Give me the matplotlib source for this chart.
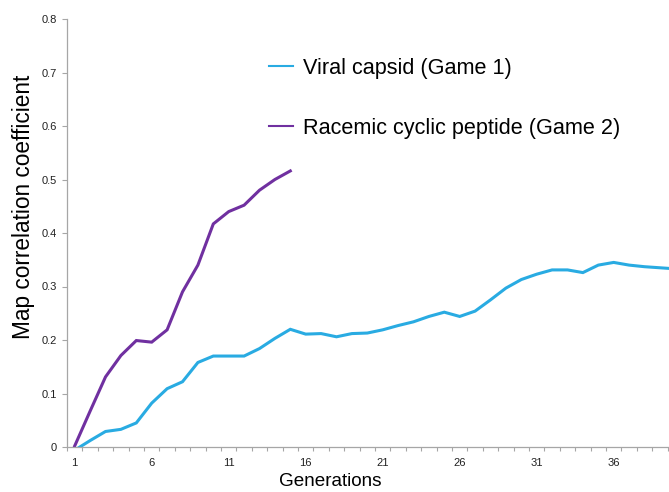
import matplotlib
matplotlib.use("Agg")
import matplotlib.pyplot as plt
from matplotlib.lines import Line2D

plt.rcParams['font.family'] = ['Liberation Sans', 'DejaVu Sans']

generations_blue = list(range(1, 41))
viral_capsid = [-0.006, 0.012, 0.029, 0.033, 0.045, 0.082, 0.109, 0.122, 0.158, 0.170,
                0.170, 0.170, 0.184, 0.203, 0.220, 0.211, 0.212, 0.206, 0.212, 0.213,
                0.219, 0.227, 0.234, 0.244, 0.252, 0.244, 0.254, 0.275, 0.297, 0.313,
                0.323, 0.331, 0.331, 0.326, 0.340, 0.345, 0.340, 0.337, 0.335, 0.333]
generations_purple = list(range(1, 16))
racemic_peptide = [0.002, 0.067, 0.131, 0.171, 0.199, 0.196, 0.219, 0.290, 0.340, 0.417,
                   0.440, 0.452, 0.480, 0.500, 0.516]
xtick_labels = [1, 6, 11, 16, 21, 26, 31, 36]
ytick_values = [0, 0.1, 0.2, 0.3, 0.4, 0.5, 0.6, 0.7, 0.8]

blue = '#29ABE2'
purple = '#7030A0'
axis_gray = '#A6A6A6'

W, H = 669, 492
fig = plt.figure(figsize=(W / 100, H / 100), dpi=100)
ax_left, ax_bottom = 67, 45
ax_w = 40 * 15.4
ax_h = 447 - 19
ax = fig.add_axes([ax_left / W, ax_bottom / H, ax_w / W, ax_h / H])

ax.plot(generations_blue, viral_capsid, color=blue, lw=2.2, solid_joinstyle='miter')
ax.plot(generations_purple, racemic_peptide, color=purple, lw=2.2, solid_joinstyle='miter')

ax.set_xlim(0.5, 40.5)
ax.set_ylim(0, 0.8)

ax.set_xticks(xtick_labels)
ax.set_xticklabels([str(v) for v in xtick_labels])
ax.set_xticks([i + 0.5 for i in range(0, 41)], minor=True)
ax.tick_params(axis='x', which='major', length=0, pad=8, labelsize=8, labelcolor='#222222')
ax.tick_params(axis='x', which='minor', length=3, width=0.8, color=axis_gray, direction='out')
ax.set_yticks(ytick_values)
ax.set_yticklabels(['0' if v == 0 else f'{v:.1f}' for v in ytick_values])
ax.tick_params(axis='y', length=3.6, width=0.8, color=axis_gray, direction='out', pad=3.6,
               labelsize=8, labelcolor='#222222')

for s in ['top', 'right']:
    ax.spines[s].set_visible(False)
for s in ['left', 'bottom']:
    ax.spines[s].set_color(axis_gray)
    ax.spines[s].set_linewidth(0.9)

ax.set_ylabel('Map correlation coefficient', fontsize=16.3)
ax.yaxis.set_label_coords((35 - ax_left) / ax_w, (447 - 207) / ax_h)
ax.set_xlabel('Generations', fontsize=13.6)
ax.xaxis.set_label_coords((330 - ax_left) / ax_w, -(473 - 447) / ax_h)

handles = [Line2D([0], [0], color=blue, lw=1.5), Line2D([0], [0], color=purple, lw=1.5)]
leg = fig.legend(handles, ['Viral capsid (Game 1)', 'Racemic cyclic peptide (Game 2)'],
                 loc='upper left', bbox_to_anchor=(269 / W, 1 - 58 / H),
                 frameon=False, fontsize=15.6, handlelength=1.1, handletextpad=0.45,
                 labelspacing=1.8, borderaxespad=0, borderpad=0)

fig.savefig('out.png', dpi=100)
